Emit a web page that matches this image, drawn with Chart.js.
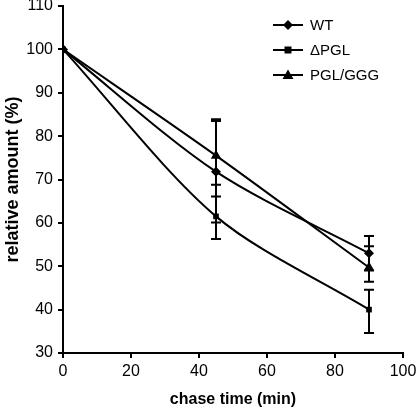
<!DOCTYPE html>
<html>
<head>
<meta charset="utf-8">
<script src="https://cdn.jsdelivr.net/npm/chart.js@4/dist/chart.umd.min.js"></script>
<style>
  html, body { margin: 0; padding: 0; background: #fff; }
  #wrap { width: 416px; height: 415px; }
</style>
</head>
<body>
<div id="wrap"><canvas id="chart"></canvas></div>
<script>
// chase time (min)
const times = [0, 45, 90];

const seriesNames = ["WT", "\u0394PGL", "PGL/GGG"];
const wtValues = [100, 71.8, 53];
const dpglValues = [100, 61.5, 40];
const gggValues = [100, 75.5, 49.7];

// error bar ends (null = no bar)
const wtLow = [null, 60.1, 49];
const wtHigh = [null, 83.5, 57];
const dpglLow = [null, 56.3, 34.6];
const dpglHigh = [null, 66.1, 44.6];
const gggLow = [null, 68.8, 46.4];
const gggHigh = [null, 83.9, 54.6];

const xTicks = [0, 20, 40, 60, 80, 100];
const yTicks = [30, 40, 50, 60, 70, 80, 90, 100, 110];

const FONT = "Liberation Sans, Arial, sans-serif";

function pts(values) {
    return times.map((t, i) => ({ x: t, y: values[i] }));
}

const errorBars = {
    id: "errorBars",
    afterDatasetsDraw(chart) {
        const ctx = chart.ctx;
        const xs = chart.scales.x, ys = chart.scales.y;
        const sets = [[wtLow, wtHigh], [dpglLow, dpglHigh], [gggLow, gggHigh]];
        ctx.save();
        ctx.strokeStyle = "#000";
        ctx.lineWidth = 2;
        sets.forEach(([lo, hi]) => {
            times.forEach((t, i) => {
                if (lo[i] == null) return;
                const px = xs.getPixelForValue(t);
                const y1 = ys.getPixelForValue(lo[i]);
                const y2 = ys.getPixelForValue(hi[i]);
                ctx.beginPath();
                ctx.moveTo(px, y1); ctx.lineTo(px, y2);
                ctx.moveTo(px - 5, y1); ctx.lineTo(px + 5, y1);
                ctx.moveTo(px - 5, y2); ctx.lineTo(px + 5, y2);
                ctx.stroke();
            });
        });
        ctx.restore();
    }
};

function drawMarker(ctx, style, x, y) {
    ctx.beginPath();
    if (style === "rectRot") {
        ctx.moveTo(x, y - 5); ctx.lineTo(x + 5, y); ctx.lineTo(x, y + 5); ctx.lineTo(x - 5, y);
    } else if (style === "rect") {
        ctx.rect(x - 3.5, y - 3.5, 7, 7);
    } else {
        ctx.moveTo(x, y - 5.5); ctx.lineTo(x + 5.5, y + 4); ctx.lineTo(x - 5.5, y + 4);
    }
    ctx.closePath();
    ctx.fill();
}

const boxLegend = {
    id: "boxLegend",
    afterDraw(chart) {
        const ctx = chart.ctx;
        const styles = ["rectRot", "rect", "triangle"];
        ctx.save();
        ctx.strokeStyle = "#000";
        ctx.fillStyle = "#000";
        ctx.lineWidth = 2;
        ctx.font = "15px " + FONT;
        ctx.textBaseline = "middle";
        seriesNames.forEach((name, i) => {
            const y = 25 + i * 25;
            ctx.beginPath();
            ctx.moveTo(273, y); ctx.lineTo(303, y);
            ctx.stroke();
            drawMarker(ctx, styles[i], 288, y);
            ctx.fillText(name, 310, y + 1);
        });
        ctx.restore();
    }
};

function makeSet(label, values, style, radius) {
    return {
        label: label,
        data: pts(values),
        borderColor: "#000",
        backgroundColor: "#000",
        borderWidth: 2,
        pointStyle: style,
        pointRadius: radius,
        pointBorderWidth: 0,
        tension: 0.3,
        fill: false
    };
}

new Chart(document.getElementById("chart"), {
    type: "line",
    data: {
        datasets: [
            makeSet(seriesNames[0], wtValues, "rectRot", 5),
            makeSet(seriesNames[1], dpglValues, "rect", 4),
            makeSet(seriesNames[2], gggValues, "triangle", 6)
        ]
    },
    options: {
        responsive: true,
        maintainAspectRatio: false,
        animation: false,
        layout: { padding: { top: 5, right: 13, bottom: 6, left: 0 } },
        plugins: {
            legend: { display: false },
            tooltip: { enabled: false }
        },
        scales: {
            x: {
                type: "linear",
                min: 0,
                max: 100,
                afterBuildTicks: (s) => { s.ticks = xTicks.map(v => ({ value: v })); },
                afterFit: (s) => { s.height = 56; s.paddingRight = 0; s.paddingLeft = 0; },
                border: { color: "#000", width: 2 },
                grid: { drawOnChartArea: false, drawTicks: true, tickLength: 5, color: "#000", lineWidth: 2 },
                ticks: { color: "#000", font: { family: FONT, size: 16 }, padding: 4, maxRotation: 0 },
                title: { display: true, text: "chase time (min)", color: "#000", font: { family: FONT, size: 16, weight: "bold" }, padding: { top: 4, bottom: 0 } }
            },
            y: {
                min: 30,
                max: 110,
                afterBuildTicks: (s) => { s.ticks = yTicks.map(v => ({ value: v })); },
                afterFit: (s) => { s.width = 63; s.paddingTop = 0; s.paddingBottom = 0; },
                border: { color: "#000", width: 2 },
                grid: { drawOnChartArea: false, drawTicks: true, tickLength: 5, color: "#000", lineWidth: 2 },
                ticks: { color: "#000", font: { family: FONT, size: 16 }, padding: 5 },
                title: { display: true, text: "relative amount (%)", color: "#000", font: { family: FONT, size: 18, weight: "bold" }, padding: { top: 2, bottom: 0 } }
            }
        }
    },
    plugins: [errorBars, boxLegend]
});
</script>
</body>
</html>
